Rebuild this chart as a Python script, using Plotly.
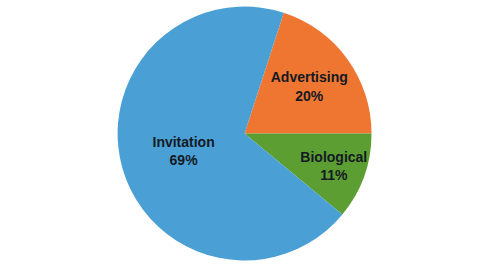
import plotly.graph_objects as go

labels = ["Advertising", "Biological", "Invitation"]
values = [20, 11, 69]
colors = ["#ee7631", "#5c9e31", "#4aa0d5"]

fig = go.Figure(go.Pie(
    labels=labels,
    values=values,
    sort=False,
    direction="clockwise",
    rotation=18,
    marker=dict(colors=colors, line=dict(width=0)),
    textinfo="label+percent",
    texttemplate="<b>%{label}</b><br><b>%{percent:.0%}</b>",
    textposition="inside",
    insidetextorientation="horizontal",
    textfont=dict(family="Liberation Sans, Arial, sans-serif", size=14, color="#141a24"),
    domain=dict(x=[0.245, 0.774], y=[0.035, 0.976]),
    hoverinfo="skip",
))
fig.update_layout(
    width=480, height=270,
    margin=dict(l=0, r=0, t=0, b=0),
    showlegend=False,
    paper_bgcolor="white",
    plot_bgcolor="white",
    uniformtext=dict(minsize=14, mode="show"),
)
fig.write_html("out.html")
